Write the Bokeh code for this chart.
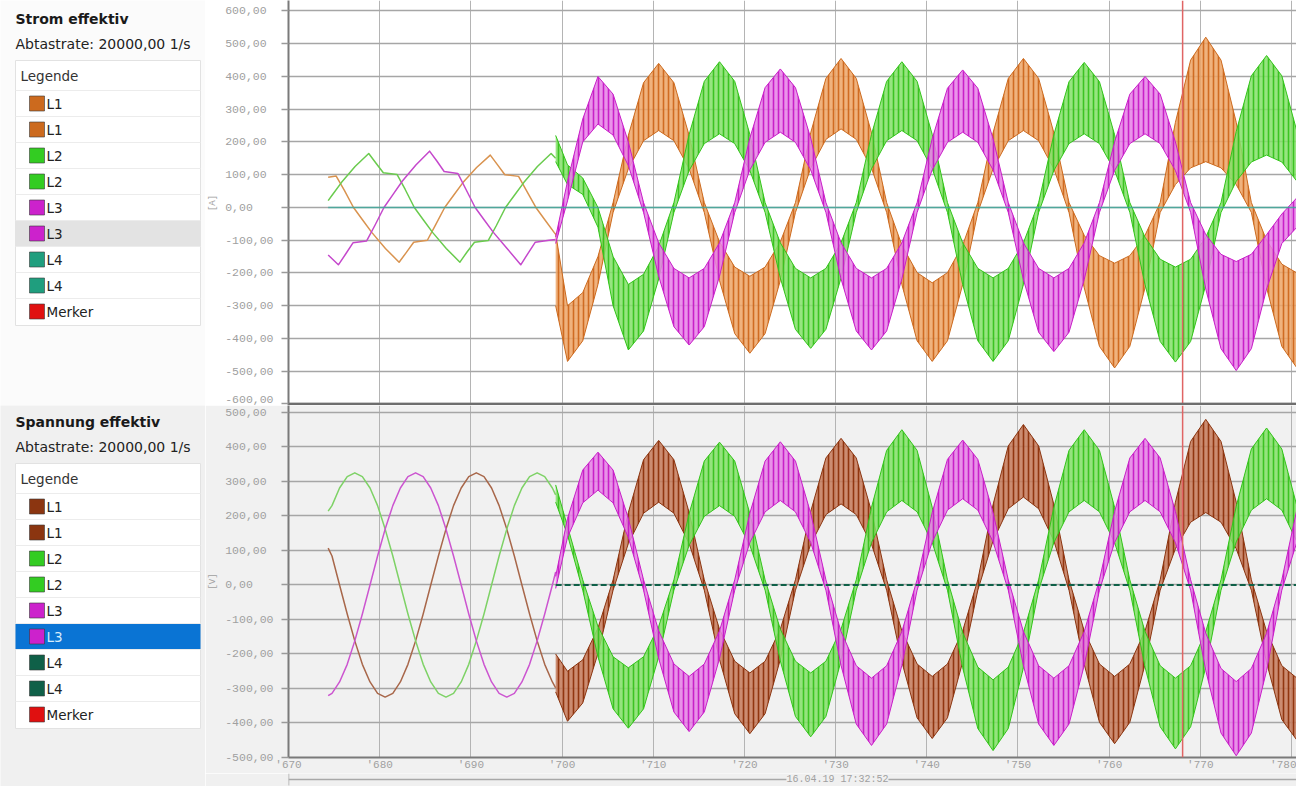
from bokeh.plotting import figure
from bokeh.layouts import row, column
from bokeh.models import FixedTicker, Range1d, Span, Label
from bokeh.core.properties import value
from bokeh.embed import file_html
from bokeh.resources import INLINE

# ---------------- data ----------------
x_ticks = [670, 680, 690, 700, 710, 720, 730, 740, 750, 760, 770, 780]
x_tick_labels = ["'670", "'680", "'690", "'700", "'710", "'720", "'730", "'740", "'750", "'760", "'770", "'780"]
cur_ticks = [600, 500, 400, 300, 200, 100, 0, -100, -200, -300, -400, -500, -600]
cur_tick_labels = ["600,00\u00a0", "500,00\u00a0", "400,00\u00a0", "300,00\u00a0", "200,00\u00a0", "100,00\u00a0",
                   "0,00\u00a0\u00a0\u00a0", "-100,00", "-200,00", "-300,00", "-400,00", "-500,00", "-600,00"]
volt_ticks = [500, 400, 300, 200, 100, 0, -100, -200, -300, -400, -500]
volt_tick_labels = ["500,00\u00a0", "400,00\u00a0", "300,00\u00a0", "200,00\u00a0", "100,00\u00a0",
                    "0,00\u00a0\u00a0\u00a0", "-100,00", "-200,00", "-300,00", "-400,00", "-500,00"]
time_stamp = "16.04.19 17:32:52"
marker_t = [768.06]

legend_labels = ["L1", "L1", "L2", "L2", "L3", "L3", "L4", "L4", "Merker"]
cur_legend_colors = ["#cc6a1e", "#cc6a1e", "#33cc22", "#33cc22", "#cc22cc", "#cc22cc", "#1f9e7e", "#1f9e7e", "#e01010"]
volt_legend_colors = ["#8b3510", "#8b3510", "#33cc22", "#33cc22", "#cc22cc", "#cc22cc", "#0f6048", "#0f6048", "#e01010"]

# current, before the event (clean lines)
cur_L1_pre_t = [674.35, 675.23, 676.13, 677.13, 678.13, 679.13, 680.63, 682.13, 682.93, 683.73, 685.23, 686.13, 687.13,
                688.13, 689.13, 690.63, 692.13, 692.93, 693.73, 695.23, 696.13, 697.13, 698.13, 699.13, 699.30]
cur_L1_pre_v = [92, 96, 52, 0, -38, -76, -125, -167, -137, -106, -100, -53, 0,
                38, 76, 122, 160, 130, 100, 95, 50, 0, -38, -76, -82]
cur_L2_pre_t = [674.35, 674.80, 675.80, 677.30, 678.80, 679.60, 680.40, 681.90, 682.80, 683.80, 684.80, 685.80,
                687.30, 688.80, 689.60, 690.40, 691.90, 692.80, 693.80, 694.80, 695.80, 697.30, 698.80, 699.30]
cur_L2_pre_v = [21, 38, 76, 125, 165, 135, 106, 101, 55, 0, -38, -76,
                -125, -167, -135, -106, -101, -55, 0, 38, 76, 125, 165, 150]
cur_L3_pre_t = [674.35, 675.47, 676.27, 677.07, 678.57, 679.47, 680.47, 681.47, 682.47, 683.97, 685.47, 686.27,
                687.07, 688.57, 689.47, 690.47, 691.47, 692.47, 693.97, 695.47, 696.27, 697.07, 698.57, 699.30]
cur_L3_pre_v = [-145, -175, -142, -108, -102, -55, 0, 40, 80, 130, 172, 142,
                110, 104, 55, 0, -38, -76, -125, -175, -140, -106, -100, -98]
cur_L4_t = [674.35, 781.43]
cur_L4_v = [0, 0]

# voltage, before the event
volt_pre_t = [674.35, 674.77, 675.60, 676.44, 677.27, 678.10, 678.94, 679.77, 680.60, 681.44, 682.27, 683.10, 683.94,
              684.77, 685.60, 686.44, 687.27, 688.10, 688.94, 689.77, 690.60, 691.44, 692.27, 693.10, 693.94,
              694.77, 695.60, 696.44, 697.27, 698.10, 698.94, 699.30]
volt_L1_pre = [107, 84, 0, -84, -162, -230, -281, -314, -325, -314, -281, -230, -162,
               -84, 0, 84, 162, 230, 281, 314, 325, 314, 281, 230, 162,
               84, 0, -84, -162, -230, -281, -298]
volt_L2_pre = [214, 230, 281, 314, 325, 314, 281, 230, 162, 84, 0, -84, -162,
               -230, -281, -314, -325, -314, -281, -230, -162, -84, 0, 84, 162,
               230, 281, 314, 325, 314, 281, 261]
volt_L3_pre = [-321, -314, -281, -230, -162, -84, 0, 84, 162, 230, 281, 314, 325,
               314, 281, 230, 162, 84, 0, -84, -162, -230, -281, -314, -325,
               -314, -281, -230, -162, -84, 0, 38]
volt_L4_t = [699.30, 781.43]
volt_L4_v = [0, 0]

# after the event: upper / lower edge of the rippled band
post_t = [699.30,
          700.60, 702.27, 703.94, 705.60,
          707.27, 708.94, 710.60, 712.27, 713.94, 715.60,
          717.27, 718.94, 720.60, 722.27, 723.94, 725.60,
          727.27, 728.94, 730.60, 732.27, 733.94, 735.60,
          737.27, 738.94, 740.60, 742.27, 743.94, 745.60,
          747.27, 748.94, 750.60, 752.27, 753.94, 755.60,
          757.27, 758.94, 760.60, 762.27, 763.94, 765.60,
          767.27, 768.94, 770.60, 772.27, 773.94, 775.60,
          777.27, 778.94, 780.60,
          781.43]

volt_L1_up = [-200, -250, -217, -125, 15,
              210, 363, 419, 363, 210, 15,
              -128, -221, -255, -221, -128, 15,
              213, 368, 425, 368, 213, 15,
              -133, -229, -265, -229, -133, 15,
              233, 403, 465, 403, 233, 15,
              -133, -229, -265, -229, -133, 15,
              240, 416, 480, 416, 240, 15,
              -135, -234, -270, -262]
volt_L1_lo = [-310, -395, -342, -198, -15,
              120, 208, 240, 208, 120, -15,
              -216, -373, -431, -373, -216, -15,
              118, 204, 235, 204, 118, -15,
              -223, -385, -445, -385, -223, -15,
              128, 221, 255, 221, 128, -15,
              -230, -398, -460, -398, -230, -15,
              105, 182, 210, 182, 105, -15,
              -225, -390, -450, -436]
volt_L2_up = [290, 170, 15, -120, -208,
              -240, -208, -120, 15, 207, 359,
              414, 359, 207, 15, -128, -221,
              -255, -221, -128, 15, 225, 390,
              450, 390, 225, 15, -138, -238,
              -275, -238, -138, 15, 225, 390,
              450, 390, 225, 15, -135, -234,
              -270, -234, -135, 15, 228, 394,
              455, 394, 228, 118]
volt_L2_lo = [240, 145, -15, -208, -359,
              -415, -359, -208, -15, 115, 199,
              230, 199, 115, -15, -220, -381,
              -440, -381, -220, -15, 123, 212,
              245, 212, 123, -15, -240, -416,
              -480, -416, -240, -15, 123, 212,
              245, 212, 123, -15, -238, -411,
              -475, -411, -238, -15, 125, 217,
              250, 217, 125, 65]
volt_L3_up = [25, 193, 333, 385, 333,
              193, 15, -133, -229, -265, -229,
              -133, 15, 208, 359, 415, 359,
              208, 15, -135, -234, -270, -234,
              -135, 15, 210, 364, 420, 364,
              210, 15, -135, -234, -270, -234,
              -135, 15, 213, 368, 425, 368,
              213, 15, -140, -242, -280, -242,
              -140, 15, 220, 311]
volt_L3_lo = [-10, 138, 238, 275, 238,
              138, -15, -213, -368, -425, -368,
              -213, -15, 123, 212, 245, 212,
              123, -15, -233, -403, -465, -403,
              -233, -15, 125, 217, 250, 217,
              125, -15, -233, -403, -465, -403,
              -233, -15, 123, 212, 245, 212,
              123, -15, -248, -429, -495, -429,
              -248, -15, 125, 177]

cur_L1_up = [-80, -300, -260, -150, 15,
             220, 381, 440, 381, 220, 15,
             -105, -182, -210, -182, -105, 15,
             228, 394, 455, 394, 228, 15,
             -115, -199, -230, -199, -115, 15,
             228, 394, 455, 394, 228, 15,
             -85, -147, -170, -147, -85, 15,
             260, 450, 520, 450, 260, 15,
             -100, -173, -200, -193]
cur_L1_lo = [-300, -470, -407, -235, -15,
             118, 204, 235, 204, 118, -15,
             -223, -385, -445, -385, -223, -15,
             120, 208, 240, 208, 120, -15,
             -235, -407, -470, -407, -235, -15,
             118, 204, 235, 204, 118, -15,
             -245, -424, -490, -424, -245, -15,
             70, 121, 140, 121, 70, -15,
             -245, -424, -490, -473]
cur_L2_up = [220, 130, 90, 0, -150,
             -235, -204, -118, 15, 223, 385,
             445, 385, 223, 15, -108, -186,
             -215, -186, -108, 15, 223, 385,
             445, 385, 223, 15, -108, -186,
             -215, -186, -108, 15, 222, 384,
             443, 384, 222, 15, -91, -158,
             -182, -158, -91, 15, 232, 402,
             464, 402, 232, 120]
cur_L2_lo = [140, 70, 40, -60, -300,
             -435, -377, -218, -15, 113, 195,
             225, 195, 113, -15, -215, -372,
             -430, -372, -215, -15, 118, 204,
             235, 204, 118, -15, -235, -407,
             -470, -407, -235, -15, 113, 195,
             225, 195, 113, -15, -236, -409,
             -472, -409, -236, -15, 80, 139,
             160, 139, 80, 41]
cur_L3_up = [-90, 80, 270, 400, 346,
             200, 15, -108, -186, -215, -186,
             -108, 15, 212, 366, 423, 366,
             212, 15, -108, -186, -215, -186,
             -108, 15, 210, 364, 420, 364,
             210, 15, -108, -186, -215, -186,
             -108, 15, 200, 346, 400, 346,
             200, 15, -83, -143, -165, -143,
             -83, -20, 30, 90]
cur_L3_lo = [-110, 20, 200, 255, 221,
             128, -15, -210, -364, -420, -364,
             -210, -15, 115, 199, 230, 199,
             115, -15, -218, -377, -435, -377,
             -218, -15, 115, 199, 230, 199,
             115, -15, -220, -381, -440, -381,
             -220, -15, 113, 195, 225, 195,
             113, -15, -249, -431, -498, -431,
             -249, -110, -60, -10]

# ---------------- styling / layout ----------------
X0, X1 = 670, 780.55
xr = Range1d(X0, X1)
MONO = "Liberation Mono"
SANS = "DejaVu Sans"
LEFT_W = 205
RIGHT_W = 1091


def chart(h, yr, ticks, labels, ylabel, bg, bottom_border, show_x):
    p = figure(width=RIGHT_W, height=h, x_range=xr, y_range=Range1d(*yr),
               output_backend="svg", toolbar_location=None,
               min_border_left=82, min_border_right=0, min_border_top=0, min_border_bottom=bottom_border,
               background_fill_color=bg, border_fill_color=bg, outline_line_color=None)
    p.yaxis.ticker = FixedTicker(ticks=ticks)
    p.yaxis.major_label_overrides = dict(zip(ticks, labels))
    p.ygrid.ticker = FixedTicker(ticks=ticks)
    p.xaxis.ticker = FixedTicker(ticks=x_ticks)
    p.xaxis.major_label_overrides = dict(zip(x_ticks, x_tick_labels))
    p.xgrid.ticker = FixedTicker(ticks=x_ticks)
    p.ygrid.grid_line_color = "#a6a6a6"
    p.ygrid.grid_line_width = 1.5
    p.xgrid.grid_line_color = "#b4b4b4"
    p.xgrid.grid_line_width = 1
    for ax in (p.yaxis, p.xaxis):
        ax.axis_line_color = "#7a7a7a"
        ax.axis_line_width = 2
        ax.minor_tick_line_color = None
        ax.major_label_text_font = MONO
        ax.major_label_text_font_size = "11.5px"
        ax.major_label_text_color = "#a0a0a0"
    p.xaxis.major_label_text_font_size = "11px"
    p.yaxis.major_tick_out = 7
    p.yaxis.major_tick_in = 0
    p.yaxis.major_tick_line_color = "#9a9a9a"
    p.yaxis.major_tick_line_width = 1.5
    p.yaxis.major_label_standoff = 8
    p.yaxis.axis_label = ylabel
    p.yaxis.axis_label_text_font = MONO
    p.yaxis.axis_label_text_font_size = "9px"
    p.yaxis.axis_label_text_font_style = "normal"
    p.yaxis.axis_label_text_color = "#a0a0a0"
    p.yaxis.axis_label_standoff = 4
    p.xaxis.major_tick_out = 0
    p.xaxis.major_tick_in = 0
    p.xaxis.major_label_standoff = 1
    p.xaxis.visible = show_x
    return p


def band(p, up, lo, fill, hatch, edge):
    p.varea(x=post_t, y1=lo, y2=up, fill_color=fill, fill_alpha=0.85,
            hatch_pattern="vertical_line", hatch_color=hatch, hatch_scale=5,
            hatch_weight=1.6, hatch_alpha=0.9)
    p.line(post_t, up, line_color=edge, line_width=1)
    p.line(post_t, lo, line_color=edge, line_width=1)


# top: current
top = chart(405, (-604.6, 632.0), cur_ticks, cur_tick_labels, "[A]", "#ffffff", 0, False)
top.line(cur_L1_pre_t, cur_L1_pre_v, line_color="#d9934f", line_width=1.5, line_join="round")
top.line(cur_L2_pre_t, cur_L2_pre_v, line_color="#6acb4e", line_width=1.5, line_join="round")
top.line(cur_L3_pre_t, cur_L3_pre_v, line_color="#c548cc", line_width=1.5, line_join="round")
band(top, cur_L1_up, cur_L1_lo, "#eda466", "#cc6418", "#cc6a1e")
band(top, cur_L2_up, cur_L2_lo, "#84e068", "#32c018", "#33c41a")
band(top, cur_L3_up, cur_L3_lo, "#e680e6", "#c414c4", "#c81ec8")
top.line(cur_L4_t, cur_L4_v, line_color="#3aa89a", line_width=1.5, line_alpha=0.8)
top.add_layout(Span(location=marker_t[0], dimension="height", line_color="#e06464", line_width=1.5))
top.add_layout(Span(location=cur_ticks[-1], dimension="width", line_color="#6e6e6e", line_width=2.5))

# bottom: voltage
bot = chart(368, (-500, 520.2), volt_ticks, volt_tick_labels, "[V]", "#f1f1f1", 14, True)
bot.line(volt_pre_t, volt_L1_pre, line_color="#a8674a", line_width=1.5, line_join="round")
bot.line(volt_pre_t, volt_L2_pre, line_color="#7ed266", line_width=1.5, line_join="round")
bot.line(volt_pre_t, volt_L3_pre, line_color="#cc55d0", line_width=1.5, line_join="round")
band(bot, volt_L1_up, volt_L1_lo, "#c67a5a", "#8b2c06", "#8b3510")
band(bot, volt_L2_up, volt_L2_lo, "#84e068", "#32c018", "#33c41a")
band(bot, volt_L3_up, volt_L3_lo, "#e680e6", "#c414c4", "#c81ec8")
bot.line(volt_L4_t, volt_L4_v, line_color="#0f6048", line_width=2, line_dash="6 3")
bot.add_layout(Span(location=marker_t[0], dimension="height", line_color="#e06464", line_width=1.5))

# time stamp line below the x axis
tl = figure(width=RIGHT_W, height=13, x_range=xr, y_range=Range1d(-7, 6),
            output_backend="svg", toolbar_location=None, x_axis_type=None, y_axis_type=None,
            min_border_left=82, min_border_right=0, min_border_top=0, min_border_bottom=0,
            background_fill_color="#f0f0f0", border_fill_color="#f0f0f0", outline_line_color=None)
tl.line([X0, X1], [0, 0], line_color="#a8a8a8", line_width=1.5)
tl.segment(x0=[X0], y0=[-6], x1=[X0], y1=[6], line_color="#a8a8a8", line_width=1.5)
tl.add_layout(Label(x=730.2, y=0, text=time_stamp, text_align="center", text_baseline="middle",
                    text_font=MONO, text_font_size="10px", text_color="#a0a0a0",
                    background_fill_color="#f0f0f0"))


def left_panel(h, bg, title, ty, sy, box_top, row0, colors, hl_fill, hl_text):
    p = figure(width=LEFT_W, height=h, x_range=Range1d(0, LEFT_W), y_range=Range1d(h, 0),
               output_backend="svg", toolbar_location=None, x_axis_type=None, y_axis_type=None,
               min_border=0, background_fill_color=bg, border_fill_color=bg, outline_line_color=None)
    font = value(SANS)
    p.text(x=[15], y=[ty], text=[title], text_font=font, text_font_size="14px",
           text_font_style="bold", text_color="#1a1a1a", text_baseline="middle")
    p.text(x=[15], y=[sy], text=["Abtastrate: 20000,00 1/s"], text_font=font, text_font_size="14px",
           text_color="#222222", text_baseline="middle")
    p.quad(left=[15], right=[200], top=[box_top], bottom=[box_top + 265],
           fill_color="#ffffff", line_color="#e2e2e2")
    p.text(x=[20], y=[box_top + 15], text=["Legende"], text_font=font, text_font_size="13.5px",
           text_color="#333333", text_baseline="middle")
    ys = [row0 + 26 * i for i in range(len(legend_labels))]
    p.segment(x0=15, x1=200, y0=[y - 13 for y in ys], y1=[y - 13 for y in ys],
              line_color="#ececec", line_width=1)
    p.quad(left=[15], right=[200], top=[ys[5] - 12.5], bottom=[ys[5] + 12.5],
           fill_color=hl_fill, line_color=None)
    p.rect(x=36.5, y=ys, width=15, height=15, fill_color=colors, line_color="#3a3a3a", line_alpha=0.6)
    tcol = ["#222222"] * len(legend_labels)
    tcol[5] = hl_text
    p.text(x=46, y=ys, text=legend_labels, text_font=font, text_font_size="13.5px",
           text_color=tcol, text_baseline="middle")
    return p


lt = left_panel(405, "#fbfbfb", "Strom effektiv", 18, 43, 60, 103, cur_legend_colors, "#e3e3e3", "#222222")
lb = left_panel(381, "#f0f0f0", "Spannung effektiv", 16, 41, 58, 101, volt_legend_colors, "#0a74d4", "#d6ebfb")

layout = row(column(lt, lb), column(top, bot, tl))
open("out.html", "w").write(file_html(layout, INLINE))
